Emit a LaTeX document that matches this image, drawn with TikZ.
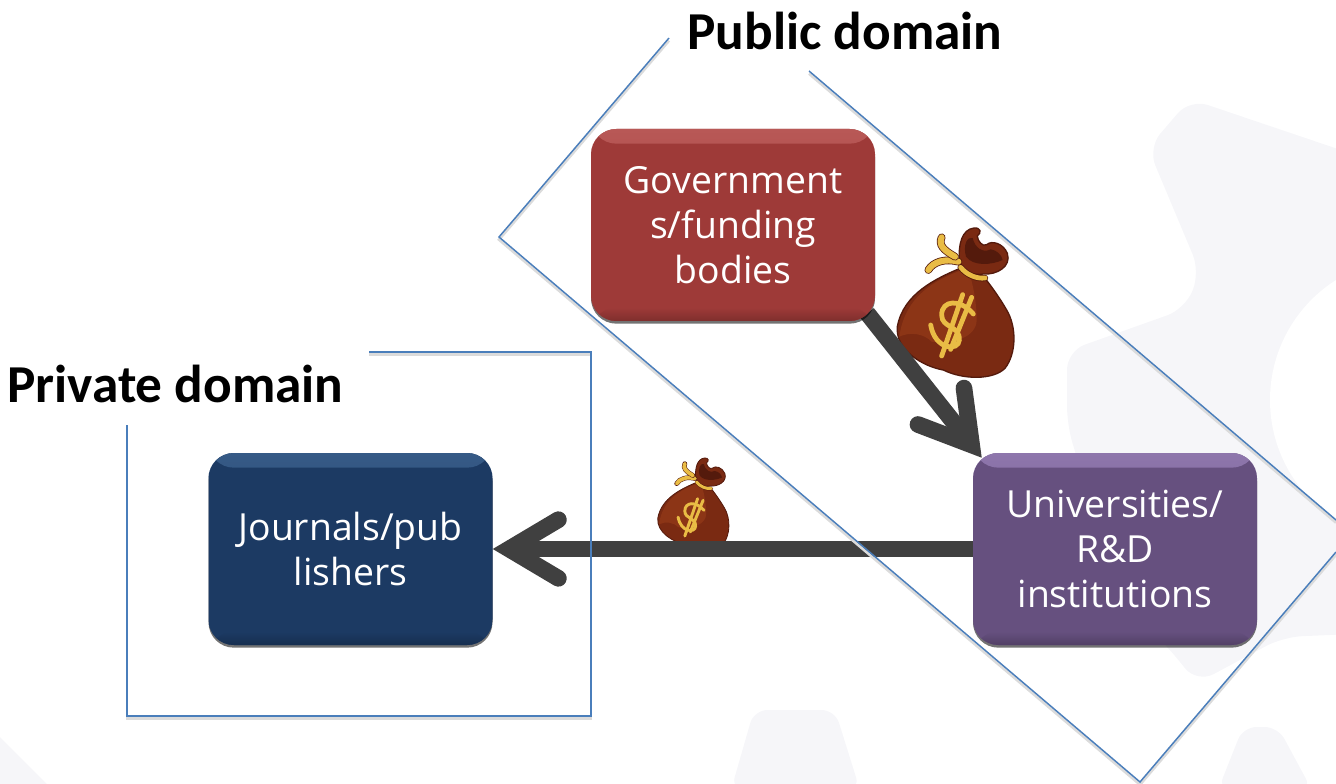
\documentclass[tikz,border=0pt]{standalone}
\usepackage{fontspec}
\setmainfont{Open Sans}
\newfontfamily\labelfont{Carlito}
\usetikzlibrary{arrows.meta,shadows}
\pgfdeclarelayer{backlayer}
\pgfdeclarelayer{edgelayer}
\pgfsetlayers{backlayer,edgelayer,main}
\definecolor{govred}{HTML}{9E3A38}
\definecolor{govtop}{HTML}{B85856}
\definecolor{unipurple}{HTML}{66507F}
\definecolor{unitop}{HTML}{8E76AC}
\definecolor{pubnavy}{HTML}{1C3A63}
\definecolor{pubtop}{HTML}{365A86}
\definecolor{domainblue}{HTML}{4A7EBB}
\definecolor{arrowgrey}{HTML}{404040}
\definecolor{gearwash}{HTML}{F6F6F9}
\definecolor{bagbody}{HTML}{7A2A12}
\definecolor{baglight}{HTML}{8C3516}
\definecolor{bagdark}{HTML}{541A0C}
\definecolor{baggold}{HTML}{E9BC45}
\tikzset{
  pics/moneybag/.style={code={
    \begin{scope}[scale=#1/3]
      %% bag and its crown
      \draw[bagdark,fill=bagbody,line width=#1*1pt] (300,175) .. controls (230,205) and (130,250) .. (112,350)
        .. controls (105,420) and (190,470) .. (250,480) .. controls (310,510) and (400,510) .. (435,475)
        .. controls (470,430) and (470,350) .. (440,300) .. controls (420,265) and (395,230) .. (375,205) -- cycle;
      \fill[baglight] (300,182) .. controls (230,210) and (135,255) .. (118,380)
        .. controls (150,365) and (190,370) .. (215,395) .. controls (280,405) and (350,380) .. (350,330)
        .. controls (350,280) and (340,230) .. (330,195) -- cycle;
      \draw[bagdark,fill=bagbody,line width=#1*1pt] (298,150) .. controls (295,105) and (305,58) .. (342,54)
        .. controls (362,52) and (366,68) .. (352,78) .. controls (352,92) and (368,112) .. (380,104)
        .. controls (395,90) and (430,100) .. (442,130) .. controls (455,170) and (410,195) .. (370,192)
        .. controls (340,198) and (305,185) .. (298,150) -- cycle;
      \fill[bagdark] (318,140) .. controls (308,105) and (322,78) .. (338,84) .. controls (345,115) and (370,130) .. (392,118)
        .. controls (410,120) and (425,135) .. (428,150) .. controls (395,165) and (340,170) .. (318,140) -- cycle;
      %% ties
      \draw[draw=bagdark,double=baggold,double distance=#1*3.6pt,line width=#1*0.6pt,line cap=round]
        (302,172) .. controls (320,195) and (350,207) .. (375,204);
      \draw[draw=bagdark,double=baggold,double distance=#1*4.6pt,line width=#1*0.6pt,line cap=round]
        (295,155) .. controls (255,145) and (220,155) .. (205,180);
      \draw[draw=bagdark,double=baggold,double distance=#1*4.6pt,line width=#1*0.6pt,line cap=round]
        (285,140) .. controls (250,120) and (235,105) .. (245,82);
      %% dollar sign
      \begin{scope}[line width=#1*3.6pt,baggold,line cap=round]
        \draw (340,312) .. controls (300,265) and (245,270) .. (245,315) .. controls (245,355) and (300,345) .. (298,390)
          .. controls (296,425) and (225,420) .. (212,345);
        \draw (308,254) -- (245,438);
        \draw (335,262) -- (272,418);
      \end{scope}
    \end{scope}
  }}
}
\begin{document}
\begin{tikzpicture}
[x=0.75pt,y=-0.75pt,
  boxdecorate/.style={shape=rectangle,rounded corners=19pt,minimum width=213pt,minimum height=144pt,
    align=center,text=white,font=\fontsize{28}{33.75}\selectfont,inner sep=0pt,
    drop shadow={shadow xshift=0pt,shadow yshift=-2pt,opacity=0.55,fill=black}},
  arrowdecorate/.style={-{Straight Barb[length=37pt,width=44pt,line width=12.5pt,line cap=round,line join=miter]},
    arrowgrey,line width=12.5pt},
  domaindecorate/.style={domainblue,line width=1.1pt,
    preaction={draw=black!14,line width=2pt,transform canvas={yshift=-2pt}}},
  domainlabel/.style={font=\labelfont\bfseries\fontsize{40}{44}\selectfont,text=black,inner sep=0pt}]
\useasboundingbox (0,0) rectangle (1336,784);
%% faint gear behind everything, and the bags
\begin{pgfonlayer}{backlayer}
  \begin{scope}
    \clip (0,0) rectangle (1336,784);
    \fill[gearwash,rounded corners=14pt] (1148,148) -- (1190,99) -- (1400,170) -- (1400,632) -- (1283,637) -- (1197,683)
      -- (1167,646) -- (1120,600) -- (1067,425) -- (1067,351) -- (1185,309) -- (1200,272) -- cycle;
    \fill[white] (1412,400) circle [radius=142];
    \fill[gearwash,rounded corners=10pt] (731,790) -- (754,710) -- (835,710) -- (860,790) -- cycle;
    \fill[gearwash,rounded corners=10pt] (1218,790) -- (1243,727) -- (1278,727) -- (1312,790) -- cycle;
    \fill[gearwash] (0,737) -- (47,784) -- (0,784) -- cycle;
  \end{scope}
  \pic at (860,210) {moneybag=1};
  \pic at (635,447) {moneybag=0.61};
\end{pgfonlayer}
%% nodes or vertices
\foreach \nodename/\x/\y/\nodetext/\basecolor/\topcolor in {
  gov/733/225/{Government\\s/funding\\bodies}/govred/govtop,
  univ/1115/549/{Universities/\\R\&D\\institutions}/unipurple/unitop,
  pub/350.5/549/{Journals/pub\\lishers}/pubnavy/pubtop} {
  \node (\nodename) at (\x,\y) [boxdecorate,fill=\basecolor,
    path picture={
      \shade[top color=\topcolor,bottom color=\basecolor]
        (path picture bounding box.north west) rectangle ([yshift=-11pt]path picture bounding box.north east);
      \shade[top color=\basecolor,bottom color=\basecolor!80!black]
        ([yshift=10pt]path picture bounding box.south west) rectangle (path picture bounding box.south east);
    }] {\nodetext};
}
\node (publiclabel) at (845,31) [domainlabel] {Public domain};
\node (privatelabel) at (175.5,384) [domainlabel] {Private domain};
\coordinate (govout) at ([shift={(-8,-8)}]gov.south east);
\coordinate (univin) at ([shift={(9,5)}]univ.north west);
%% edges or lines
\begin{pgfonlayer}{edgelayer}
  \path
  \foreach \startnode/\endnode in {govout/univin, univ.west/pub.east} {
    (\startnode) edge[arrowdecorate] (\endnode)
  };
  %% the two domain outlines
  \draw[domaindecorate] (669,38) -- (499,237) -- (1140,782) -- (1336,552);
  \draw[domaindecorate] (809,71) -- (1336,520);
  \draw[domaindecorate] (369,352) -- (591,352) -- (591,716) -- (127,716) -- (127,425);
\end{pgfonlayer}
\end{tikzpicture}
\end{document}
